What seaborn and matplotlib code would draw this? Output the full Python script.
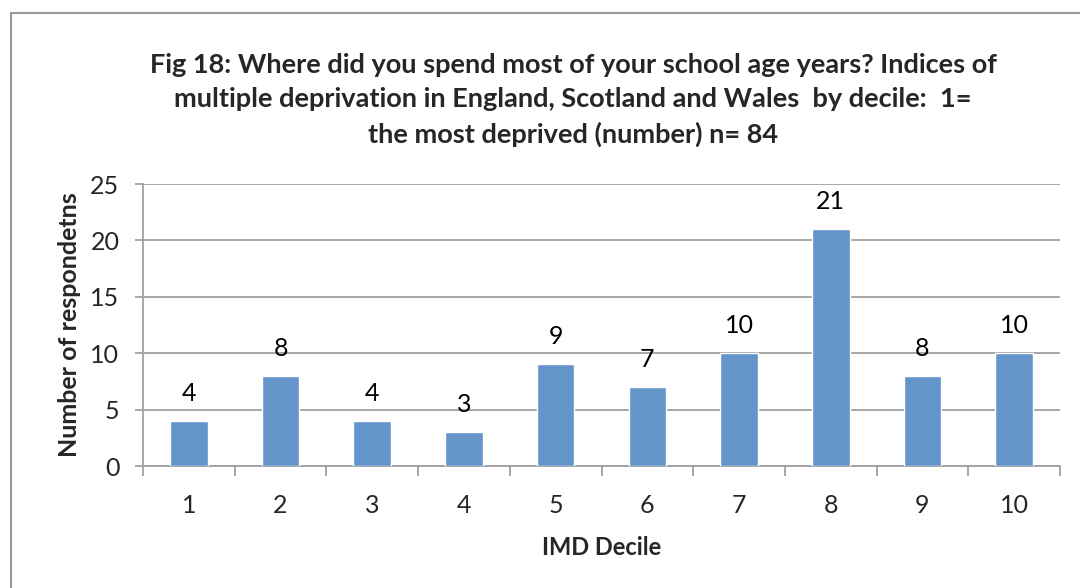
import matplotlib
matplotlib.use("Agg")
import matplotlib.pyplot as plt
import seaborn as sns
import pandas as pd
from matplotlib.patches import Rectangle

deciles = ["1", "2", "3", "4", "5", "6", "7", "8", "9", "10"]
counts = [4, 8, 4, 3, 9, 7, 10, 21, 8, 10]
title = ("Fig 18: Where did you spend most of your school age years? Indices of\n"
         "multiple deprivation in England, Scotland and Wales  by decile:  1=\n"
         "the most deprived (number) n= 84")
xlabel = "IMD Decile"
ylabel = "Number of respondetns"

sns.set_theme(style="white")
plt.rcParams['font.family'] = ['Lato', 'DejaVu Sans']

df = pd.DataFrame({"decile": deciles, "count": counts})

fig = plt.figure(figsize=(10.8, 5.88), dpi=100)
ax = fig.add_axes([143/1080, 1-466/588, 917/1080, 282/588])

bar_color = "#6495CA"
sns.barplot(data=df, x="decile", y="count", color=bar_color, width=0.41,
            saturation=1, ax=ax, zorder=3)

ax.set_ylim(0, 25)
ax.set_xlim(-0.5, len(deciles) - 0.5)
ax.set_yticks([0, 5, 10, 15, 20, 25])
ax.yaxis.grid(True, color="#A0A0A0", linewidth=1.3, zorder=0)
ax.set_axisbelow(True)

for s in ["top", "right"]:
    ax.spines[s].set_visible(False)
for s in ["left", "bottom"]:
    ax.spines[s].set_color("#A0A0A0")
    ax.spines[s].set_linewidth(1.3)

ax.tick_params(axis="y", which="major", direction="out", length=6, width=1.3,
               color="#A0A0A0", left=True, labelsize=18, pad=11)
ax.tick_params(axis="x", which="major", length=0, labelsize=18, pad=20)
ax.set_xticks([i - 0.5 for i in range(len(deciles) + 1)], minor=True)
ax.tick_params(axis="x", which="minor", direction="out", length=7, width=1.3,
               color="#A0A0A0", bottom=True)

for i, v in enumerate(counts):
    ax.text(i, v + 2.45, str(v), ha="center", va="center", fontsize=18, color="black")

ax.set_xlabel(xlabel, fontsize=17, fontweight="bold", labelpad=14)
ax.set_ylabel(ylabel, fontsize=18, fontweight="bold", labelpad=7)

fig.text(573/1080, 1-100/588, title, ha="center", va="center", fontsize=19.5,
         fontweight="bold", linespacing=1.5)

fig.patches.append(Rectangle((11/1080, -0.05), 1.2, 1 - 13/588 + 0.05,
                             transform=fig.transFigure, fill=False,
                             edgecolor="#9A9A9A", linewidth=1.5))

fig.savefig("out.png", dpi=100)
